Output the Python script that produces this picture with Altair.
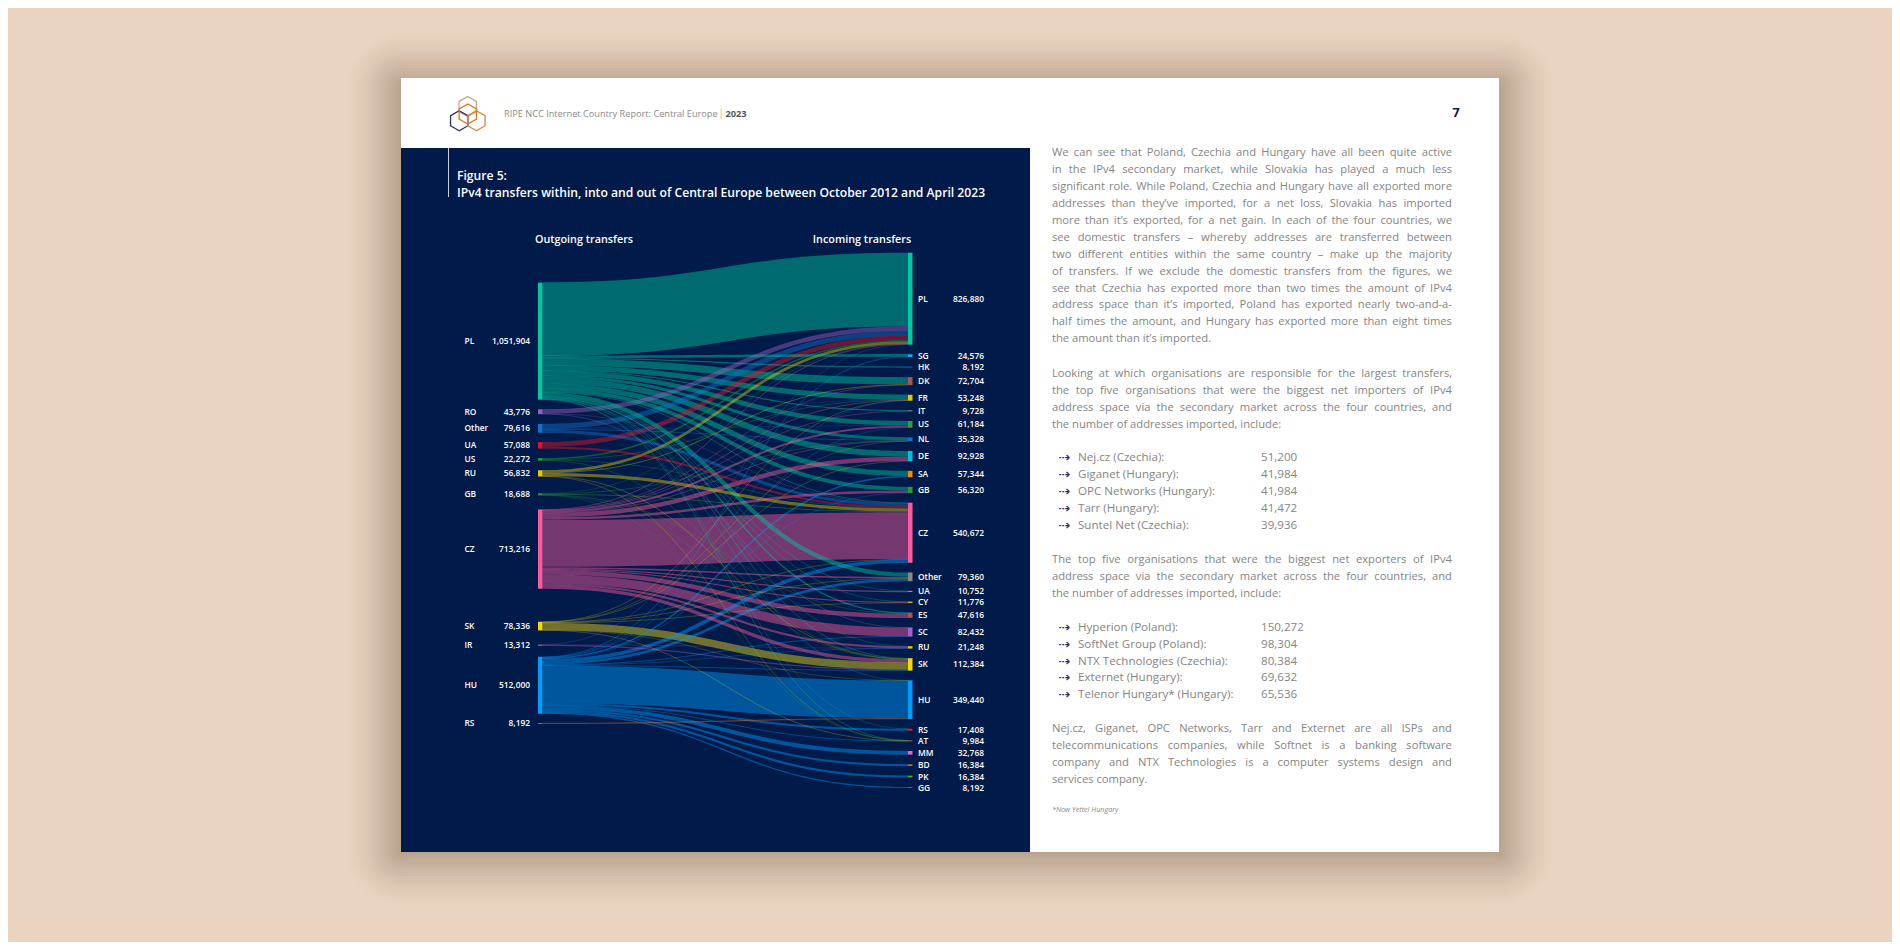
import altair as alt
import pandas as pd

# ---------- chart values ----------
LEFT_NAMES = ["PL", "RO", "Other", "UA", "US", "RU", "GB", "CZ", "SK", "IR", "HU", "RS"]
LEFT_TOTALS = [1051904, 43776, 79616, 57088, 22272, 56832, 18688, 713216, 78336, 13312, 512000, 8192]
RIGHT_NAMES = ["PL", "SG", "HK", "DK", "FR", "IT", "US", "NL", "DE", "SA", "GB", "CZ", "Other", "UA", "CY",
               "ES", "SC", "RU", "SK", "HU", "RS", "AT", "MM", "BD", "PK", "GG"]
RIGHT_TOTALS = [826880, 24576, 8192, 72704, 53248, 9728, 61184, 35328, 92928, 57344, 56320, 540672, 79360,
                10752, 11776, 47616, 82432, 21248, 112384, 349440, 17408, 9984, 32768, 16384, 16384, 8192]

FLOWS = {
    "PL": {"PL": 660000, "SG": 20480, "HK": 8192, "DK": 62000, "FR": 44000, "IT": 7000, "US": 38000, "NL": 24000,
           "DE": 50000, "SA": 44000, "GB": 32000, "CZ": 4096, "Other": 36000, "UA": 2560, "CY": 2776, "ES": 9616,
           "RU": 2048, "SK": 4000, "HU": 2248, "RS": 1408, "AT": 3984},
    "RO": {"PL": 38000, "CZ": 2000, "SC": 3776},
    "Other": {"PL": 44000, "FR": 2000, "US": 2000, "NL": 6000, "CZ": 25616},
    "UA": {"PL": 40000, "CZ": 17088},
    "US": {"PL": 12000, "FR": 3888, "CZ": 3000, "SK": 3384},
    "RU": {"PL": 22000, "DK": 4000, "CZ": 26000, "SK": 2832, "AT": 2000},
    "GB": {"PL": 1880, "NL": 4000, "CZ": 6000, "ES": 2808, "SK": 2000, "AT": 2000},
    "CZ": {"PL": 4000, "DK": 2704, "FR": 4096, "IT": 2728, "US": 15000, "NL": 3328, "DE": 36928, "GB": 20320,
           "CZ": 418000, "Other": 11000, "UA": 8192, "CY": 7000, "ES": 38000, "SC": 78000, "RU": 17000, "SK": 28000},
    "SK": {"FR": 2000, "NL": 1000, "DE": 2000, "CZ": 2000, "Other": 2000, "CY": 2000, "SK": 64000, "HU": 1000,
           "AT": 2336},
    "IR": {"PL": 2048, "RU": 2264, "SK": 9000},
    "HU": {"SG": 4096, "FR": 1360, "US": 2184, "SA": 10000, "GB": 2000, "CZ": 30000, "Other": 20000, "SC": 4432,
           "RU": 2200, "SK": 4000, "HU": 338000, "RS": 16000, "AT": 4000, "MM": 32768, "BD": 16384, "PK": 16384,
           "GG": 8192},
    "RS": {"HU": 8192},
}

LEFT_COLORS = ["#00C9A0", "#9B5FC0", "#1670C8", "#E8132B", "#2E9B2E", "#E9C800", "#2E9B2E", "#FF5A9E",
               "#F2D70A", "#8F55B5", "#009CFF", "#E8641E"]
RIGHT_COLORS = ["#00C9A0", "#00B0F0", "#1670C8", "#A8584A", "#E6C800", "#888888", "#3A9B3A", "#1670C8",
                "#00BFE0", "#F28C00", "#2E9B2E", "#FF5A9E", "#888888", "#FF5A9E", "#E6C800", "#A8584A",
                "#A060D0", "#E6C800", "#F2D70A", "#009CFF", "#E81B1B", "#A8584A", "#F060C0", "#C8641E",
                "#5AAA1E", "#1090A0"]

PARAGRAPHS = [
    (153.3, ["We can see that Poland, Czechia and Hungary have all been quite active",
             "in the IPv4 secondary market, while Slovakia has played a much less",
             "significant role. While Poland, Czechia and Hungary have all exported more",
             "addresses than they\u2019ve imported, for a net loss, Slovakia has imported",
             "more than it\u2019s exported, for a net gain. In each of the four countries, we",
             "see domestic transfers \u2013 whereby addresses are transferred between",
             "two different entities within the same country \u2013 make up the majority",
             "of transfers. If we exclude the domestic transfers from the figures, we",
             "see that Czechia has exported more than two times the amount of IPv4",
             "address space than it\u2019s imported, Poland has exported nearly two-and-a-",
             "half times the amount, and Hungary has exported more than eight times",
             "the amount than it\u2019s imported."]),
    (374.0, ["Looking at which organisations are responsible for the largest transfers,",
             "the top five organisations that were the biggest net importers of IPv4",
             "address space via the secondary market across the four countries, and",
             "the number of addresses imported, include:"]),
    (560.3, ["The top five organisations that were the biggest net exporters of IPv4",
             "address space via the secondary market across the four countries, and",
             "the number of addresses imported, include:"]),
    (729.3, ["Nej.cz, Giganet, OPC Networks, Tarr and Externet are all ISPs and",
             "telecommunications companies, while Softnet is a banking software",
             "company and NTX Technologies is a computer systems design and",
             "services company."]),
]
LISTS = [
    (458.3, ["Nej.cz (Czechia):", "Giganet (Hungary):", "OPC Networks (Hungary):", "Tarr (Hungary):",
             "Suntel Net (Czechia):"], ["51,200", "41,984", "41,984", "41,472", "39,936"]),
    (627.7, ["Hyperion (Poland):", "SoftNet Group (Poland):", "NTX Technologies (Czechia):", "Externet (Hungary):",
             "Telenor Hungary* (Hungary):"], ["150,272", "98,304", "80,384", "69,632", "65,536"]),
]

# ---------- layout constants ----------
W, H = 1884, 934
PX_PER_ADDRESS = 1.112e-4
NODE_PAD = 9.6 / PX_PER_ADDRESS
LEFT_GAPS = [9.6, 9.8, 9.4, 9.6, 9.6, 16.8, 14.0, 33.0, 14.0, 10.9, 9.2]
LEFT_START, RIGHT_START = 282.7, 252.7
X0, X1 = 542.5, 908.0
NODE_W = 4.5
LINE_STEP = 16.9
TEXT_L, TEXT_R = 1052.0, 1452.0
BODY_SIZE = 11.2
LIST_SIZE = 11.6
BODY_COLOR = "#858585"
BODY_FONT = "Open Sans"
NAVY = "#001A4A"
PAGE = "#EAD3C1"
MIN_STROKE = 0.3

CHAR_W = dict(zip("abcdefghijklmnopqrstuvwxyz",
                  [556, 613, 476, 613, 561, 339, 548, 613, 253, 253, 525, 253, 930, 613, 604, 613, 613, 408, 477,
                   353, 613, 501, 778, 524, 504, 468]))
CHAR_W.update(dict(zip("ABCDEFGHIJKLMNOPQRSTUVWXYZ",
                       [633, 648, 631, 729, 556, 516, 728, 738, 279, 268, 619, 519, 903, 754, 779, 602, 779, 618,
                        549, 553, 729, 600, 926, 577, 560, 556])))
CHAR_W.update({",": 245, ".": 266, "-": 322, "\u2019": 177, "\u2013": 500, ":": 266, "(": 296, ")": 296, " ": 260})


def text_w(s, size=BODY_SIZE):
    return sum(CHAR_W.get(c, 572) for c in s) * size / 1000.0


def px(v):
    return v - 8.0


def units(p):
    return (p - 8.0) / PX_PER_ADDRESS


# ---------- sankey layout, in address units ----------
def stack(totals, start, gaps):
    tops, cur = [], units(start)
    for i, t in enumerate(totals):
        tops.append(cur)
        cur += t + (gaps[i] / PX_PER_ADDRESS if gaps is not None and i < len(gaps) else NODE_PAD)
    return tops


left_top = dict(zip(LEFT_NAMES, stack(LEFT_TOTALS, LEFT_START, LEFT_GAPS)))
right_top = dict(zip(RIGHT_NAMES, stack(RIGHT_TOTALS, RIGHT_START, None)))
left_total = dict(zip(LEFT_NAMES, LEFT_TOTALS))
right_total = dict(zip(RIGHT_NAMES, RIGHT_TOTALS))

src_mid, tgt_mid = {}, {}
for s in LEFT_NAMES:
    row = FLOWS[s]
    f = left_total[s] / sum(row.values())
    off = left_top[s]
    for t in RIGHT_NAMES:
        if t in row:
            src_mid[(s, t)] = off + row[t] * f / 2
            off += row[t] * f
for t in RIGHT_NAMES:
    col = {s: FLOWS[s][t] for s in LEFT_NAMES if t in FLOWS[s]}
    f = right_total[t] / sum(col.values())
    off = right_top[t]
    for s in LEFT_NAMES:
        if s in col:
            tgt_mid[(s, t)] = off + col[s] * f / 2
            off += col[s] * f

links = sorted(src_mid, key=lambda k: -FLOWS[k[0]][k[1]])
rows = []
N = 36
for s, t in links:
    a, b = src_mid[(s, t)], tgt_mid[(s, t)]
    for i in range(N + 1):
        u = i / N
        fx = 1.5 * (1 - u) ** 2 * u + 1.5 * (1 - u) * u ** 2 + u ** 3
        fy = 3 * (1 - u) * u ** 2 + u ** 3
        rows.append({"link": s + ">" + t, "src": s, "value": FLOWS[s][t], "p": fx, "y": a + (b - a) * fy})
link_df = pd.DataFrame(rows)

Y_SCALE = alt.Scale(domain=[0, H / PX_PER_ADDRESS], range=[0, H], nice=False, zero=False)
X_SCALE = alt.Scale(domain=[0, 1], range=[px(X0), px(X1)], nice=False, zero=False)
RAW_X = alt.X("x:Q", scale=None, axis=None)
RAW_Y = alt.Y("y:Q", scale=None, axis=None)

layers = []


def rect(x0, y0, x1, y1, color, **kw):
    d = pd.DataFrame([{"x": px(x0), "x2": px(x1), "y": px(y0), "y2": px(y1)}])
    return alt.Chart(d).mark_rect(color=color, **kw).encode(
        x=RAW_X, x2=alt.X2("x2:Q"), y=RAW_Y, y2=alt.Y2("y2:Q"))


def texts(rows_, **kw):
    return alt.Chart(pd.DataFrame(rows_)).mark_text(baseline="middle", **kw).encode(x=RAW_X, y=RAW_Y, text="t:N")


# ---------- page, shadow and card ----------
CARD = (401, 78, 1499, 852)
for d in range(54, 0, -3):
    layers.append(rect(CARD[0] - d, CARD[1] - d + 8, CARD[2] + d, CARD[3] + d, "#5A4636",
                       opacity=0.007 + 0.024 * (54 - d) / 54, cornerRadius=d))
layers.append(rect(CARD[0], CARD[1], CARD[2], CARD[3], "#FFFFFF"))
layers.append(rect(CARD[0], 148, 1030, CARD[3], NAVY))
layers.append(rect(448, 148, 449, 197, "#C9CEDA"))

# ---------- header ----------
HEX = "M0,-1L0.866,-0.5L0.866,0.5L0,1L-0.866,0.5L-0.866,-0.5Z"
logo = pd.DataFrame({"x": [px(467.7), px(459.2), px(476.4), px(467.8)],
                     "y": [px(106.5), px(120.7), px(120.7), px(114.0)],
                     "c": ["#C8A48A", "#2D2A6E", "#D9843F", "#E8731F"]})
layers.append(alt.Chart(logo).mark_point(shape=HEX, size=400, strokeWidth=1.3, filled=False, opacity=1).encode(
    x=RAW_X, y=RAW_Y, stroke=alt.Stroke("c:N", scale=None)))
layers.append(texts([{"x": px(504), "y": px(114), "t": "RIPE NCC Internet Country Report: Central Europe"}],
                    font=BODY_FONT, fontSize=9.2, color="#8A8A8A", align="left"))
layers.append(rect(720.5, 108.5, 721.7, 119.5, "#F5DC50"))
layers.append(texts([{"x": px(725.5), "y": px(114), "t": "2023"}],
                    font=BODY_FONT, fontSize=9.2, fontWeight="bold", color="#555555", align="left"))
layers.append(texts([{"x": px(1456), "y": px(113), "t": "7"}],
                    font=BODY_FONT, fontSize=12.5, fontWeight="bold", color=NAVY, align="center"))

# ---------- figure titles ----------
layers.append(texts([{"x": px(457), "y": px(176), "t": "Figure 5:"},
                     {"x": px(457), "y": px(193),
                      "t": "IPv4 transfers within, into and out of Central Europe between October 2012 and April 2023"}],
                    font=BODY_FONT, fontSize=12.15, fontWeight=600, color="#FFFFFF", align="left"))
layers.append(texts([{"x": px(584), "y": px(240), "t": "Outgoing transfers"},
                     {"x": px(862), "y": px(240), "t": "Incoming transfers"}],
                    font=BODY_FONT, fontSize=10.8, fontWeight=600, color="#FFFFFF", align="center"))

# ---------- sankey ----------
layers.append(alt.Chart(link_df).mark_line(opacity=0.46, strokeCap="butt", strokeJoin="round").encode(
    x=alt.X("p:Q", scale=X_SCALE, axis=None),
    y=alt.Y("y:Q", scale=Y_SCALE, axis=None),
    detail="link:N",
    color=alt.Color("src:N", scale=alt.Scale(domain=LEFT_NAMES, range=LEFT_COLORS), legend=None),
    size=alt.Size("value:Q", scale=alt.Scale(domain=[0, 1000000],
                                             range=[MIN_STROKE, 1000000 * PX_PER_ADDRESS + MIN_STROKE]), legend=None),
))


def node_frame(names, totals, tops, colors):
    return pd.DataFrame({"name": names, "total": totals, "y": [tops[n] for n in names],
                         "y2": [tops[n] + t for n, t in zip(names, totals)],
                         "mid": [tops[n] + t / 2 for n, t in zip(names, totals)],
                         "label": [f"{t:,}" for t in totals], "c": colors})


LEFT_DF = node_frame(LEFT_NAMES, LEFT_TOTALS, left_top, LEFT_COLORS)
RIGHT_DF = node_frame(RIGHT_NAMES, RIGHT_TOTALS, right_top, RIGHT_COLORS)
for df, xa, xb, xname, xval in [(LEFT_DF, X0 - NODE_W, X0, 464.5, 530),
                                (RIGHT_DF, X1, X1 + NODE_W, 918, 984)]:
    layers.append(alt.Chart(df).mark_rect().encode(
        x=alt.value(px(xa)), x2=alt.value(px(xb)),
        y=alt.Y("y:Q", scale=Y_SCALE, axis=None), y2=alt.Y2("y2:Q"),
        fill=alt.Fill("c:N", scale=None)))
    base = alt.Chart(df).encode(y=alt.Y("mid:Q", scale=Y_SCALE, axis=None))
    layers.append(base.mark_text(font=BODY_FONT, fontSize=8.4, fontWeight=600, color="#FFFFFF", align="left",
                                 baseline="middle").encode(x=alt.value(px(xname)), text="name:N"))
    layers.append(base.mark_text(font=BODY_FONT, fontSize=8.4, fontWeight=600, color="#FFFFFF", align="right",
                                 baseline="middle").encode(x=alt.value(px(xval)), text="label:N"))

# ---------- body copy ----------
word_rows, line_rows, list_rows = [], [], []
for y0, lines in PARAGRAPHS:
    for i, line in enumerate(lines):
        y = px(y0 + i * LINE_STEP)
        if i == len(lines) - 1:
            line_rows.append({"x": px(TEXT_L), "y": y, "t": line})
            continue
        words = line.split(" ")
        natural = sum(text_w(w) for w in words)
        gap = (TEXT_R - TEXT_L - natural) / (len(words) - 1)
        cur = TEXT_L
        for w in words:
            word_rows.append({"x": px(cur), "y": y, "t": w})
            cur += text_w(w) + gap
for y0, names, nums in LISTS:
    for i, (n, v) in enumerate(zip(names, nums)):
        y = px(y0 + i * LINE_STEP)
        list_rows.append({"x": px(1078), "y": y, "t": n})
        list_rows.append({"x": px(1261), "y": y, "t": v})
arrow_rows = [{"x": px(1064), "y": px(y0 + i * LINE_STEP), "t": "\u21e2"} for y0, names, _ in LISTS
              for i in range(len(names))]
layers.append(texts(word_rows, font=BODY_FONT, fontSize=BODY_SIZE, color=BODY_COLOR, align="left"))
layers.append(texts(line_rows, font=BODY_FONT, fontSize=BODY_SIZE, color=BODY_COLOR, align="left"))
layers.append(texts(list_rows, font=BODY_FONT, fontSize=LIST_SIZE, color=BODY_COLOR, align="left"))
layers.append(texts(arrow_rows, font="DejaVu Sans", fontSize=14, color="#2E2A72", align="center"))
layers.append(texts([{"x": px(1052), "y": px(810), "t": "*Now Yettel Hungary"}],
                    font=BODY_FONT, fontSize=7.2, fontStyle="italic", color="#8A8A8A", align="left"))

chart = alt.layer(*layers).resolve_scale(x="independent", y="independent").properties(
    width=W, height=H, background=PAGE, padding=0, autosize=alt.AutoSizeParams(type="none"),
).configure_view(stroke=None)

chart.save("out.html", embed_options={"renderer": "svg", "actions": False})
